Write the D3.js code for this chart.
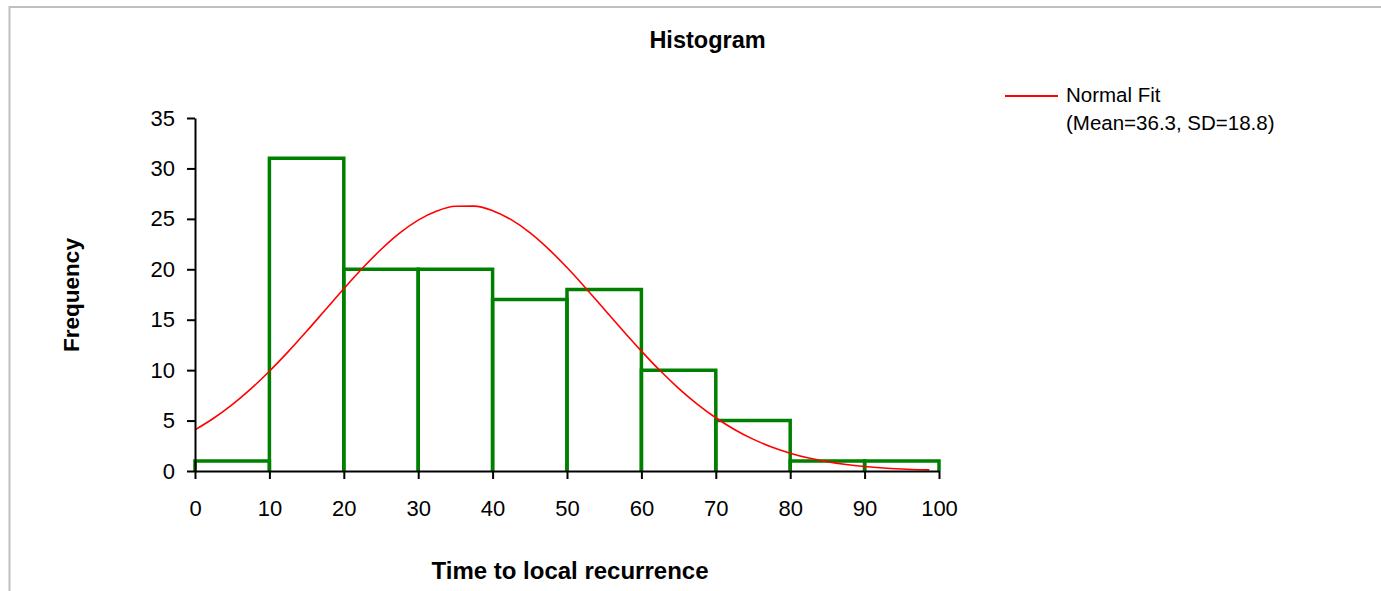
<!DOCTYPE html>
<html>
<head>
<meta charset="utf-8">
<script src="https://cdn.jsdelivr.net/npm/d3@7"></script>
<style>
  html, body { margin: 0; padding: 0; background: #ffffff; }
  svg { display: block; font-family: "Liberation Sans", Arial, sans-serif; }
</style>
</head>
<body>
<svg id="chart" width="1381" height="591"></svg>
<script>
// Histogram bins: lower edges, upper edges and counts
const binStart = [0, 10, 20, 30, 40, 50, 60, 70, 80, 90];
const binEnd   = [10, 20, 30, 40, 50, 60, 70, 80, 90, 100];
const counts   = [1, 31, 20, 20, 17, 18, 10, 5, 1, 1];

// Normal fit curve samples (x, expected frequency per bin)
const fitX = [0, 2.5, 5, 7.5, 10, 12.5, 15, 17.5, 20, 22.5, 25, 27.5, 30, 32.5, 35, 37.5,
              40, 42.5, 45, 47.5, 50, 52.5, 55, 57.5, 60, 62.5, 65, 67.5, 70, 72.5, 75,
              77.5, 80, 82.5, 85, 87.5, 90, 92.5, 95, 97.5, 98.7];
const fitY = [4.08, 5.23, 6.58, 8.14, 9.89, 11.81, 13.85, 15.96, 18.07, 20.10, 21.96, 23.58,
              24.87, 25.78, 26.25, 26.26, 25.81, 24.92, 23.64, 22.03, 20.17, 18.15, 16.04,
              13.93, 11.89, 9.96, 8.20, 6.64, 5.28, 4.12, 3.16, 2.38, 1.77, 1.28, 0.92,
              0.65, 0.45, 0.30, 0.20, 0.13, 0.11];

// Axis ticks
const xTicks = [0, 10, 20, 30, 40, 50, 60, 70, 80, 90, 100];
const yTicks = [0, 5, 10, 15, 20, 25, 30, 35];

const titleText = "Histogram";
const xTitle = "Time to local recurrence";
const yTitle = "Frequency";
const legendLines = ["Normal Fit", "(Mean=36.3, SD=18.8)"];

const svg = d3.select("#chart");

// Outer frame (top and left edges visible)
svg.append("rect")
  .attr("x", 9.5).attr("y", 7)
  .attr("width", 1400).attr("height", 620)
  .attr("fill", "none")
  .attr("stroke", "#c0c0c0")
  .attr("stroke-width", 2);

const plot = { left: 195, right: 939, top: 118, bottom: 471 };

const x = d3.scaleLinear().domain([0, 100]).range([plot.left, plot.right]);
const y = d3.scaleLinear().domain([0, 35]).range([plot.bottom, plot.top]);

// Bars drawn as open outlines: left side, top, right side
svg.append("g")
  .selectAll("path")
  .data(counts)
  .join("path")
  .attr("d", (d, i) => {
    const p = d3.path();
    p.moveTo(x(binStart[i]), y(0));
    p.lineTo(x(binStart[i]), y(d));
    p.lineTo(x(binEnd[i]), y(d));
    p.lineTo(x(binEnd[i]), y(0));
    return p.toString();
  })
  .attr("fill", "none")
  .attr("stroke", "#008000")
  .attr("stroke-width", 3.5)
  .attr("stroke-linejoin", "miter");

// Normal fit line
const line = d3.line()
  .x(d => x(d[0]))
  .y(d => y(d[1]))
  .curve(d3.curveMonotoneX);

svg.append("path")
  .datum(fitX.map((v, i) => [v, fitY[i]]))
  .attr("d", line)
  .attr("fill", "none")
  .attr("stroke", "#ff0000")
  .attr("stroke-width", 1.6);

// Axes
const yAxis = svg.append("g")
  .attr("transform", `translate(${plot.left},0)`)
  .call(d3.axisLeft(y).tickValues(yTicks).tickSize(8).tickSizeOuter(0).tickPadding(12));

const xAxis = svg.append("g")
  .attr("transform", `translate(0,${plot.bottom})`)
  .call(d3.axisBottom(x).tickValues(xTicks).tickSize(8).tickSizeOuter(0).tickPadding(21));

[yAxis, xAxis].forEach(g => {
  g.attr("font-size", null).attr("font-family", null);
  g.select(".domain").attr("stroke", "#000").attr("stroke-width", 2);
  g.selectAll(".tick line").attr("stroke", "#000").attr("stroke-width", 2);
  g.selectAll(".tick text")
    .attr("fill", "#000")
    .style("font-family", "'Liberation Sans', Arial, sans-serif")
    .style("font-size", "22px");
});

// Title
svg.append("text")
  .attr("x", 707.5).attr("y", 48)
  .attr("text-anchor", "middle")
  .style("font-size", "23.5px")
  .attr("font-weight", "bold")
  .text(titleText);

// X axis title
svg.append("text")
  .attr("x", 570).attr("y", 579)
  .attr("text-anchor", "middle")
  .style("font-size", "24px")
  .attr("font-weight", "bold")
  .text(xTitle);

// Y axis title
svg.append("text")
  .attr("transform", "translate(79,295) rotate(-90)")
  .attr("text-anchor", "middle")
  .style("font-size", "22.5px")
  .attr("font-weight", "bold")
  .text(yTitle);

// Legend
const legend = svg.append("g").attr("transform", "translate(1005,96)");
legend.append("line")
  .attr("x1", 0).attr("x2", 53)
  .attr("y1", 0).attr("y2", 0)
  .attr("stroke", "#ff0000")
  .attr("stroke-width", 2);
legend.selectAll("text.leg")
  .data(legendLines)
  .join("text")
  .attr("class", "leg")
  .attr("x", 61)
  .attr("y", (d, i) => 6 + i * 28)
  .style("font-size", "20.5px")
  .text(d => d);
</script>
</body>
</html>
